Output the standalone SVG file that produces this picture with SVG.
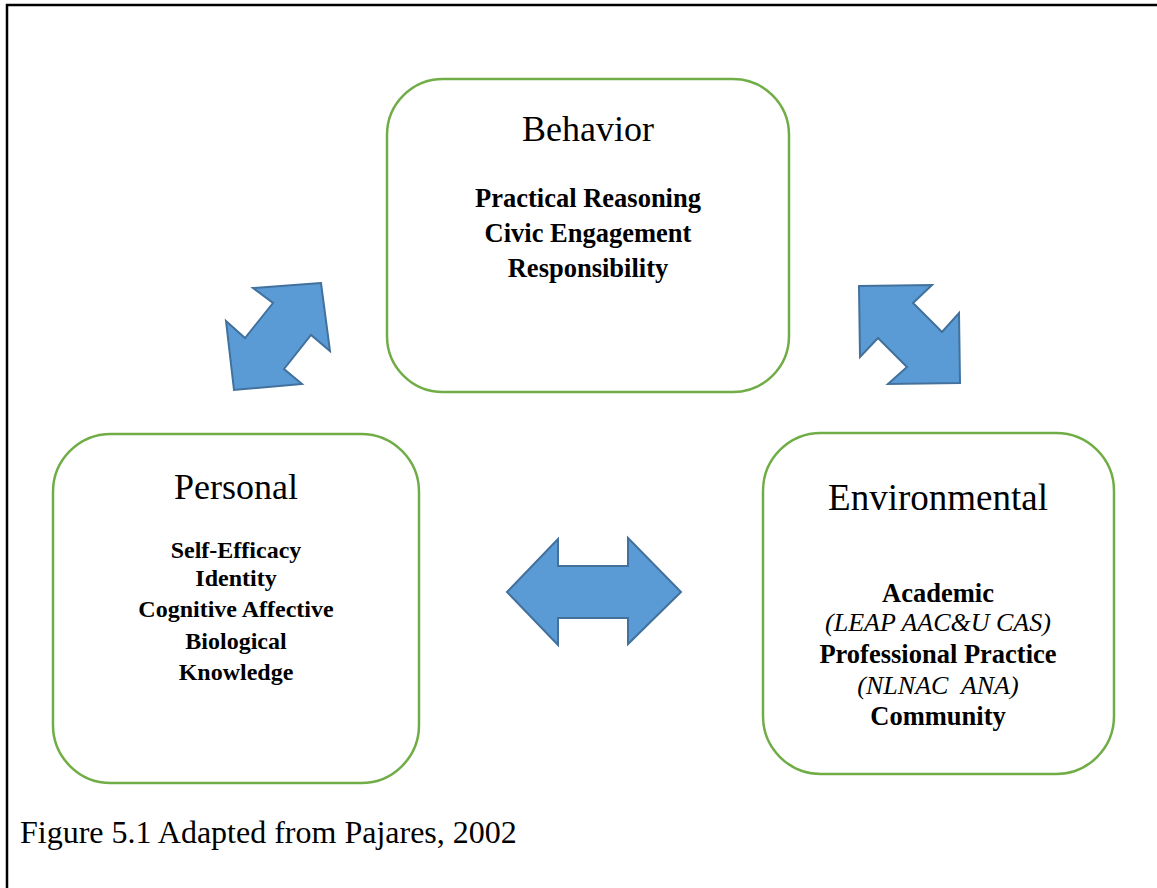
<svg xmlns="http://www.w3.org/2000/svg" width="1157" height="888" viewBox="0 0 1157 888">
  <style>
    .box { fill: #ffffff; stroke: #70AD47; stroke-width: 2.5; }
    .arrow { fill: #5B9BD5; stroke: #41719C; stroke-width: 2; stroke-linejoin: miter; }
    .title { font-family: "Liberation Serif", "Times New Roman", serif; font-size: 36px; fill: #000; text-anchor: middle; }
    .wide { font-size: 37px; }
    .item { font-family: "Liberation Serif", "Times New Roman", serif; font-weight: bold; font-size: 26.5px; fill: #000; text-anchor: middle; }
    .small { font-size: 24px; }
    .note { font-family: "Liberation Serif", "Times New Roman", serif; font-style: italic; font-size: 26px; fill: #000; text-anchor: middle; white-space: pre; }
    .caption { font-family: "Liberation Serif", "Times New Roman", serif; font-size: 32px; fill: #000; }
  </style>

  <rect x="0" y="0" width="1157" height="888" fill="#ffffff"/>
  <!-- page frame -->
  <path d="M7,888 V5 H1157" fill="none" stroke="#000" stroke-width="2.5"/>

  <g id="behavior">
    <rect class="box" x="387" y="79" width="402" height="313" rx="56" ry="56"/>
    <text class="title" x="588" y="141">Behavior</text>
    <text class="item" x="588" y="207">Practical Reasoning</text>
    <text class="item" x="588" y="242">Civic Engagement</text>
    <text class="item" x="588" y="277">Responsibility</text>
  </g>

  <g id="personal">
    <rect class="box" x="53" y="434" width="366" height="349" rx="58" ry="58"/>
    <text class="title" x="236" y="499">Personal</text>
    <text class="item small" x="236" y="558">Self-Efficacy</text>
    <text class="item small" x="236" y="586">Identity</text>
    <text class="item small" x="236" y="617">Cognitive Affective</text>
    <text class="item small" x="236" y="649">Biological</text>
    <text class="item small" x="236" y="680">Knowledge</text>
  </g>

  <g id="environmental">
    <rect class="box" x="763" y="433" width="351" height="341" rx="58" ry="58"/>
    <text class="title wide" x="938" y="510">Environmental</text>
    <text class="item" x="938" y="602">Academic</text>
    <text class="note" x="938" y="631">(LEAP AAC&amp;U CAS)</text>
    <text class="item" x="938" y="663">Professional Practice</text>
    <text class="note" x="938" y="694">(NLNAC  ANA)</text>
    <text class="item" x="938" y="725">Community</text>
  </g>

  <g id="connectors">
    <!-- personal <-> behavior -->
    <polygon class="arrow" points="321,283 253,288 273,303 245,338 226,321 234,390 302,384 284,369 311,335 330,351"/>
    <!-- behavior <-> environmental -->
    <polygon class="arrow" points="859,286 932,285 913,303 942,332 959,313 960,383 888,384 907,367 878,338 860,357"/>
    <!-- personal <-> environmental -->
    <polygon class="arrow" points="507,592 558,539 558,566 628,566 628,538 681,592 628,644 628,618 558,618 558,645"/>
  </g>

  <text class="caption" x="20" y="843">Figure 5.1 Adapted from Pajares, 2002</text>
</svg>
